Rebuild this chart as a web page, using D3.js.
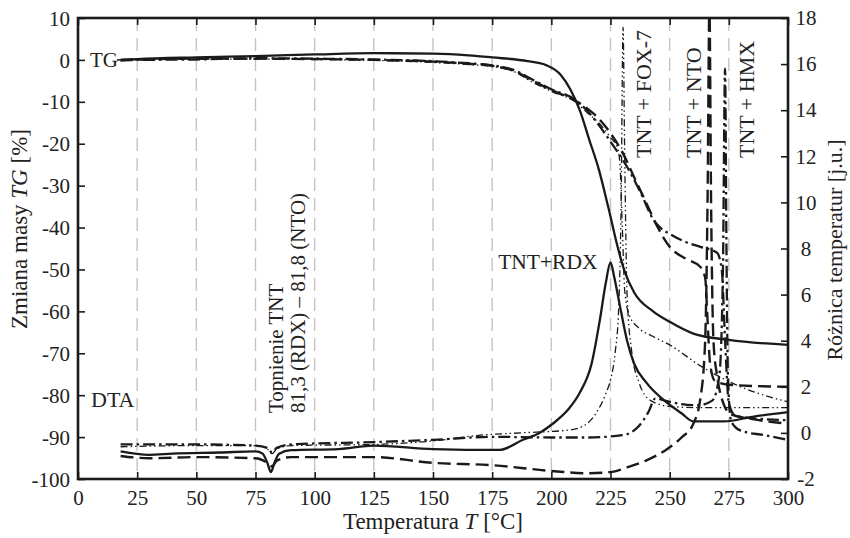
<!DOCTYPE html>
<html>
<head>
<meta charset="utf-8">
<script src="https://cdn.jsdelivr.net/npm/d3@7"></script>
<style>
  body { margin: 0; background: #fff; }
  svg text { font-family: "Liberation Serif", "DejaVu Serif", serif; fill: #222; }
  .grid line { stroke: #c4c4c4; stroke-width: 1.4; stroke-dasharray: 13,7; }
  .frame { fill: none; stroke: #1a1a1a; stroke-width: 2.6; }
  .tick-mark { stroke: #1a1a1a; stroke-width: 1.6; }
  .curve { fill: none; stroke: #1a1a1a; stroke-linejoin: round; }
</style>
</head>
<body>
<div id="chart"></div>
<script>
// data //
var samples = ["TNT+RDX", "TNT+FOX-7", "TNT+NTO", "TNT+HMX"];
var xTicks = [0, 25, 50, 75, 100, 125, 150, 175, 200, 225, 250, 275, 300];
var tgTicks = [10, 0, -10, -20, -30, -40, -50, -60, -70, -80, -90, -100];
var dtaTicks = [18, 16, 14, 12, 10, 8, 6, 4, 2, 0, -2];

// TG curves, [T, %]
var tgRdx = [[18,0],[25,0.2],[50,0.6],[75,0.9],[100,1.3],[125,1.6],[150,1.5],[165,1.1],[175,0.6],[190,-0.3],[198,-1.3],[204,-3.6],[208,-7],[212,-12],[216,-19],[220,-26],[224,-35],[228,-44.6],[231,-50.5],[235,-55.5],[243,-60],[250,-62.5],[260,-65.3],[275,-66.8],[300,-68]];
var tgFox = [[18,-0.2],[25,0],[50,0.2],[75,0.2],[100,0.1],[125,-0.1],[150,-0.6],[165,-1.1],[175,-1.6],[185,-3],[191,-5],[200,-7.5],[210,-10],[215,-12.5],[220,-15],[225,-18.5],[228,-21],[229,-25],[230,-40],[231,-55],[233,-61],[237,-64],[243,-66],[250,-68],[263,-73],[280,-78],[300,-81.6]];
var tgNto = [[18,0],[25,0.1],[50,0.3],[75,0.3],[100,0.2],[125,0],[150,-0.4],[165,-0.9],[175,-1.4],[185,-2.8],[191,-4.6],[200,-7.2],[210,-9.7],[215,-11.5],[220,-14],[225,-17.5],[230,-22],[235,-28],[240,-34],[245,-40],[250,-44.6],[257,-47.5],[263,-49.4],[265,-52],[266,-62],[267,-72],[269,-76.5],[275,-77.5],[300,-78]];
var tgHmx = [[18,-0.1],[25,0],[50,0.1],[75,0.4],[100,0.3],[125,0.1],[150,-0.3],[165,-0.8],[175,-1.3],[185,-2.6],[191,-4.4],[200,-7],[210,-9.5],[215,-12],[220,-15.5],[225,-19.5],[232,-25.5],[238,-32],[243,-38],[246,-40],[250,-41.5],[257,-43.5],[263,-44.6],[270,-46],[272,-50],[273.5,-68],[275,-82],[278,-85],[300,-86]];

// DTA curves, [T, j.u.]
var dtaRdx = [[18,-0.8],[30,-0.95],[40,-0.9],[60,-0.85],[75,-0.8],[78,-0.9],[80,-1.3],[81.5,-1.7],[83,-1.3],[85,-0.9],[90,-0.75],[110,-0.7],[125,-0.55],[150,-0.7],[178,-0.74],[188,-0.3],[195,0],[201,0.43],[207,1],[212,1.74],[217,3],[220.5,4.9],[223,6.5],[225,7.4],[226.5,6.8],[229,5.5],[232,4],[235,3],[240,2.2],[249,1.3],[255,0.85],[260,0.5],[273,0.5],[285,0.7],[300,0.9]];
var dtaFox = [[18,-0.6],[50,-0.55],[75,-0.55],[80,-0.7],[82,-0.9],[84,-0.7],[90,-0.55],[125,-0.5],[150,-0.35],[170,-0.1],[187,0],[208,0.13],[215,0.4],[219,0.87],[223,1.7],[225,2.3],[227,3.5],[228.5,5.5],[229.5,10],[230.3,17.6],[231,12],[232,6],[234,3.5],[237,2.2],[242,1.4],[250,1.15],[260,1.1],[300,1.1]];
var dtaNto = [[18,-1],[30,-1.1],[50,-1.05],[75,-1.1],[80,-1.3],[82,-1.45],[84,-1.2],[90,-1.05],[125,-1.05],[150,-1.3],[175,-1.4],[200,-1.65],[215,-1.75],[225,-1.7],[232,-1.5],[240,-1.2],[249,-0.7],[255,-0.2],[260,0.4],[263,1.5],[265,4],[266,10],[266.8,18.5],[267.5,10],[268.5,4],[270,2.5],[272,1.5],[276,0.8],[285,0.6],[300,0.4]];
var dtaHmx = [[18,-0.5],[50,-0.5],[75,-0.55],[80,-0.65],[82,-0.85],[84,-0.65],[90,-0.5],[125,-0.4],[150,-0.3],[175,-0.17],[200,-0.2],[215,-0.2],[230,-0.1],[237,0.3],[241,0.9],[244,1.5],[248,1.4],[255,1.25],[262,1.2],[268,1.4],[271,2.5],[272.5,7],[273.4,15.8],[274,8],[274.6,2.5],[276,0.5],[280,0.1],[290,-0.1],[300,-0.3]];

// SVG Setup //
var width = 850, height = 538;
var margin = {top: 18, right: 62, bottom: 59, left: 78};

var svg = d3.select("#chart").append("svg")
  .attr("width", width)
  .attr("height", height);

var x = d3.scaleLinear().domain([0, 300]).range([margin.left, width - margin.right]);
var yTg = d3.scaleLinear().domain([-100, 10]).range([height - margin.bottom, margin.top]);
var yDta = d3.scaleLinear().domain([-2, 18]).range([height - margin.bottom, margin.top]);
var plain = function(d) { return String(d); };   // keep a plain hyphen minus

svg.append("clipPath").attr("id", "plot")
  .append("rect")
  .attr("x", x(0)).attr("y", yTg(10))
  .attr("width", x(300) - x(0)).attr("height", yTg(-100) - yTg(10));

// grid
svg.append("g").attr("class", "grid")
  .selectAll("line")
  .data(xTicks.slice(1, -1))
  .enter().append("line")
  .attr("x1", x).attr("x2", x)
  .attr("y1", yTg(10)).attr("y2", yTg(-100));

// axes, ticks inward
var axBottom = svg.append("g")
  .attr("transform", "translate(0," + yTg(-100) + ")")
  .call(d3.axisBottom(x).tickValues(xTicks).tickSizeInner(-7).tickSizeOuter(0).tickPadding(11).tickFormat(plain));
var axTop = svg.append("g")
  .attr("transform", "translate(0," + yTg(10) + ")")
  .call(d3.axisTop(x).tickValues(xTicks).tickSizeInner(-7).tickSizeOuter(0).tickFormat(""));
var axLeft = svg.append("g")
  .attr("transform", "translate(" + x(0) + ",0)")
  .call(d3.axisLeft(yTg).tickValues(tgTicks).tickSizeInner(-7).tickSizeOuter(0).tickPadding(8).tickFormat(plain));
var axRight = svg.append("g")
  .attr("transform", "translate(" + x(300) + ",0)")
  .call(d3.axisRight(yDta).tickValues(dtaTicks).tickSizeInner(-7).tickSizeOuter(0).tickPadding(18).tickFormat(plain));

[axBottom, axTop, axLeft, axRight].forEach(function(g) {
  g.select(".domain").remove();
  g.selectAll(".tick line").attr("class", "tick-mark");
  g.selectAll(".tick text").style("font-size", "21px").attr("fill", "#222");
});
axRight.selectAll(".tick text").attr("text-anchor", "middle");
axLeft.selectAll(".tick text").attr("dy", "0.34em");

svg.append("rect").attr("class", "frame")
  .attr("x", x(0)).attr("y", yTg(10))
  .attr("width", x(300) - x(0)).attr("height", yTg(-100) - yTg(10));

// curves
var styles = {
  "TNT+RDX":   {dash: null, w: 2.3},
  "TNT+FOX-7": {dash: "7,3,1.5,3,1.5,3", w: 1.3},
  "TNT+NTO":   {dash: "13,6", w: 2.4},
  "TNT+HMX":   {dash: "12,4,2.5,4", w: 2.3}
};
var curves = [
  {s: "TNT+RDX", d: tgRdx, y: yTg}, {s: "TNT+FOX-7", d: tgFox, y: yTg},
  {s: "TNT+NTO", d: tgNto, y: yTg}, {s: "TNT+HMX", d: tgHmx, y: yTg},
  {s: "TNT+RDX", d: dtaRdx, y: yDta}, {s: "TNT+FOX-7", d: dtaFox, y: yDta},
  {s: "TNT+NTO", d: dtaNto, y: yDta}, {s: "TNT+HMX", d: dtaHmx, y: yDta}
];

var plot = svg.append("g").attr("clip-path", "url(#plot)");
plot.selectAll("path")
  .data(curves)
  .enter().append("path")
  .attr("class", "curve")
  .attr("stroke-width", function(c) { return styles[c.s].w; })
  .attr("stroke-dasharray", function(c) { return styles[c.s].dash; })
  .attr("d", function(c) {
    return d3.line()
      .x(function(p) { return x(p[0]); })
      .y(function(p) { return c.y(p[1]); })
      .curve(d3.curveMonotoneX)(c.d);
  });

// labels
svg.append("text").attr("x", 118).attr("y", yTg(0)).attr("dy", "0.35em")
  .attr("text-anchor", "end").style("font-size", "21px").text("TG");
svg.append("line").attr("x1", 117).attr("x2", x(18)).attr("y1", yTg(0)).attr("y2", yTg(0))
  .attr("stroke", "#1a1a1a").attr("stroke-width", 1.5);
svg.append("text").attr("x", 91).attr("y", 407)
  .style("font-size", "22px").text("DTA");

svg.append("text").attr("x", x(219.5)).attr("y", yDta(7.1))
  .attr("text-anchor", "end").style("font-size", "21.5px").text(samples[0]);

var vert = [
  {t: "Topnienie TNT", xp: 283, yp: 413, fs: 21},
  {t: "81,3 (RDX) – 81,8 (NTO)", xp: 305, yp: 413, fs: 21},
  {t: "TNT + FOX-7", xp: 651, yp: 158, fs: 22},
  {t: "TNT + NTO", xp: 701, yp: 158, fs: 22},
  {t: "TNT + HMX", xp: 754, yp: 158, fs: 22}
];
svg.selectAll(".vlabel")
  .data(vert)
  .enter().append("text")
  .attr("class", "vlabel")
  .attr("transform", function(d) { return "translate(" + d.xp + "," + d.yp + ") rotate(-90)"; })
  .style("font-size", function(d) { return d.fs + "px"; })
  .text(function(d) { return d.t; });

// axis titles
var xt = svg.append("text").attr("x", 433).attr("y", 529)
  .attr("text-anchor", "middle").style("font-size", "23px");
xt.append("tspan").text("Temperatura ");
xt.append("tspan").style("font-style", "italic").text("T");
xt.append("tspan").text(" [°C]");

var yt = svg.append("text")
  .attr("transform", "translate(27,229) rotate(-90)")
  .attr("text-anchor", "middle").style("font-size", "23px");
yt.append("tspan").text("Zmiana masy ");
yt.append("tspan").style("font-style", "italic").text("TG");
yt.append("tspan").text(" [%]");

svg.append("text")
  .attr("transform", "translate(842,250) rotate(-90)")
  .attr("text-anchor", "middle").style("font-size", "22px")
  .text("Różnica temperatur [j.u.]");
</script>
</body>
</html>
